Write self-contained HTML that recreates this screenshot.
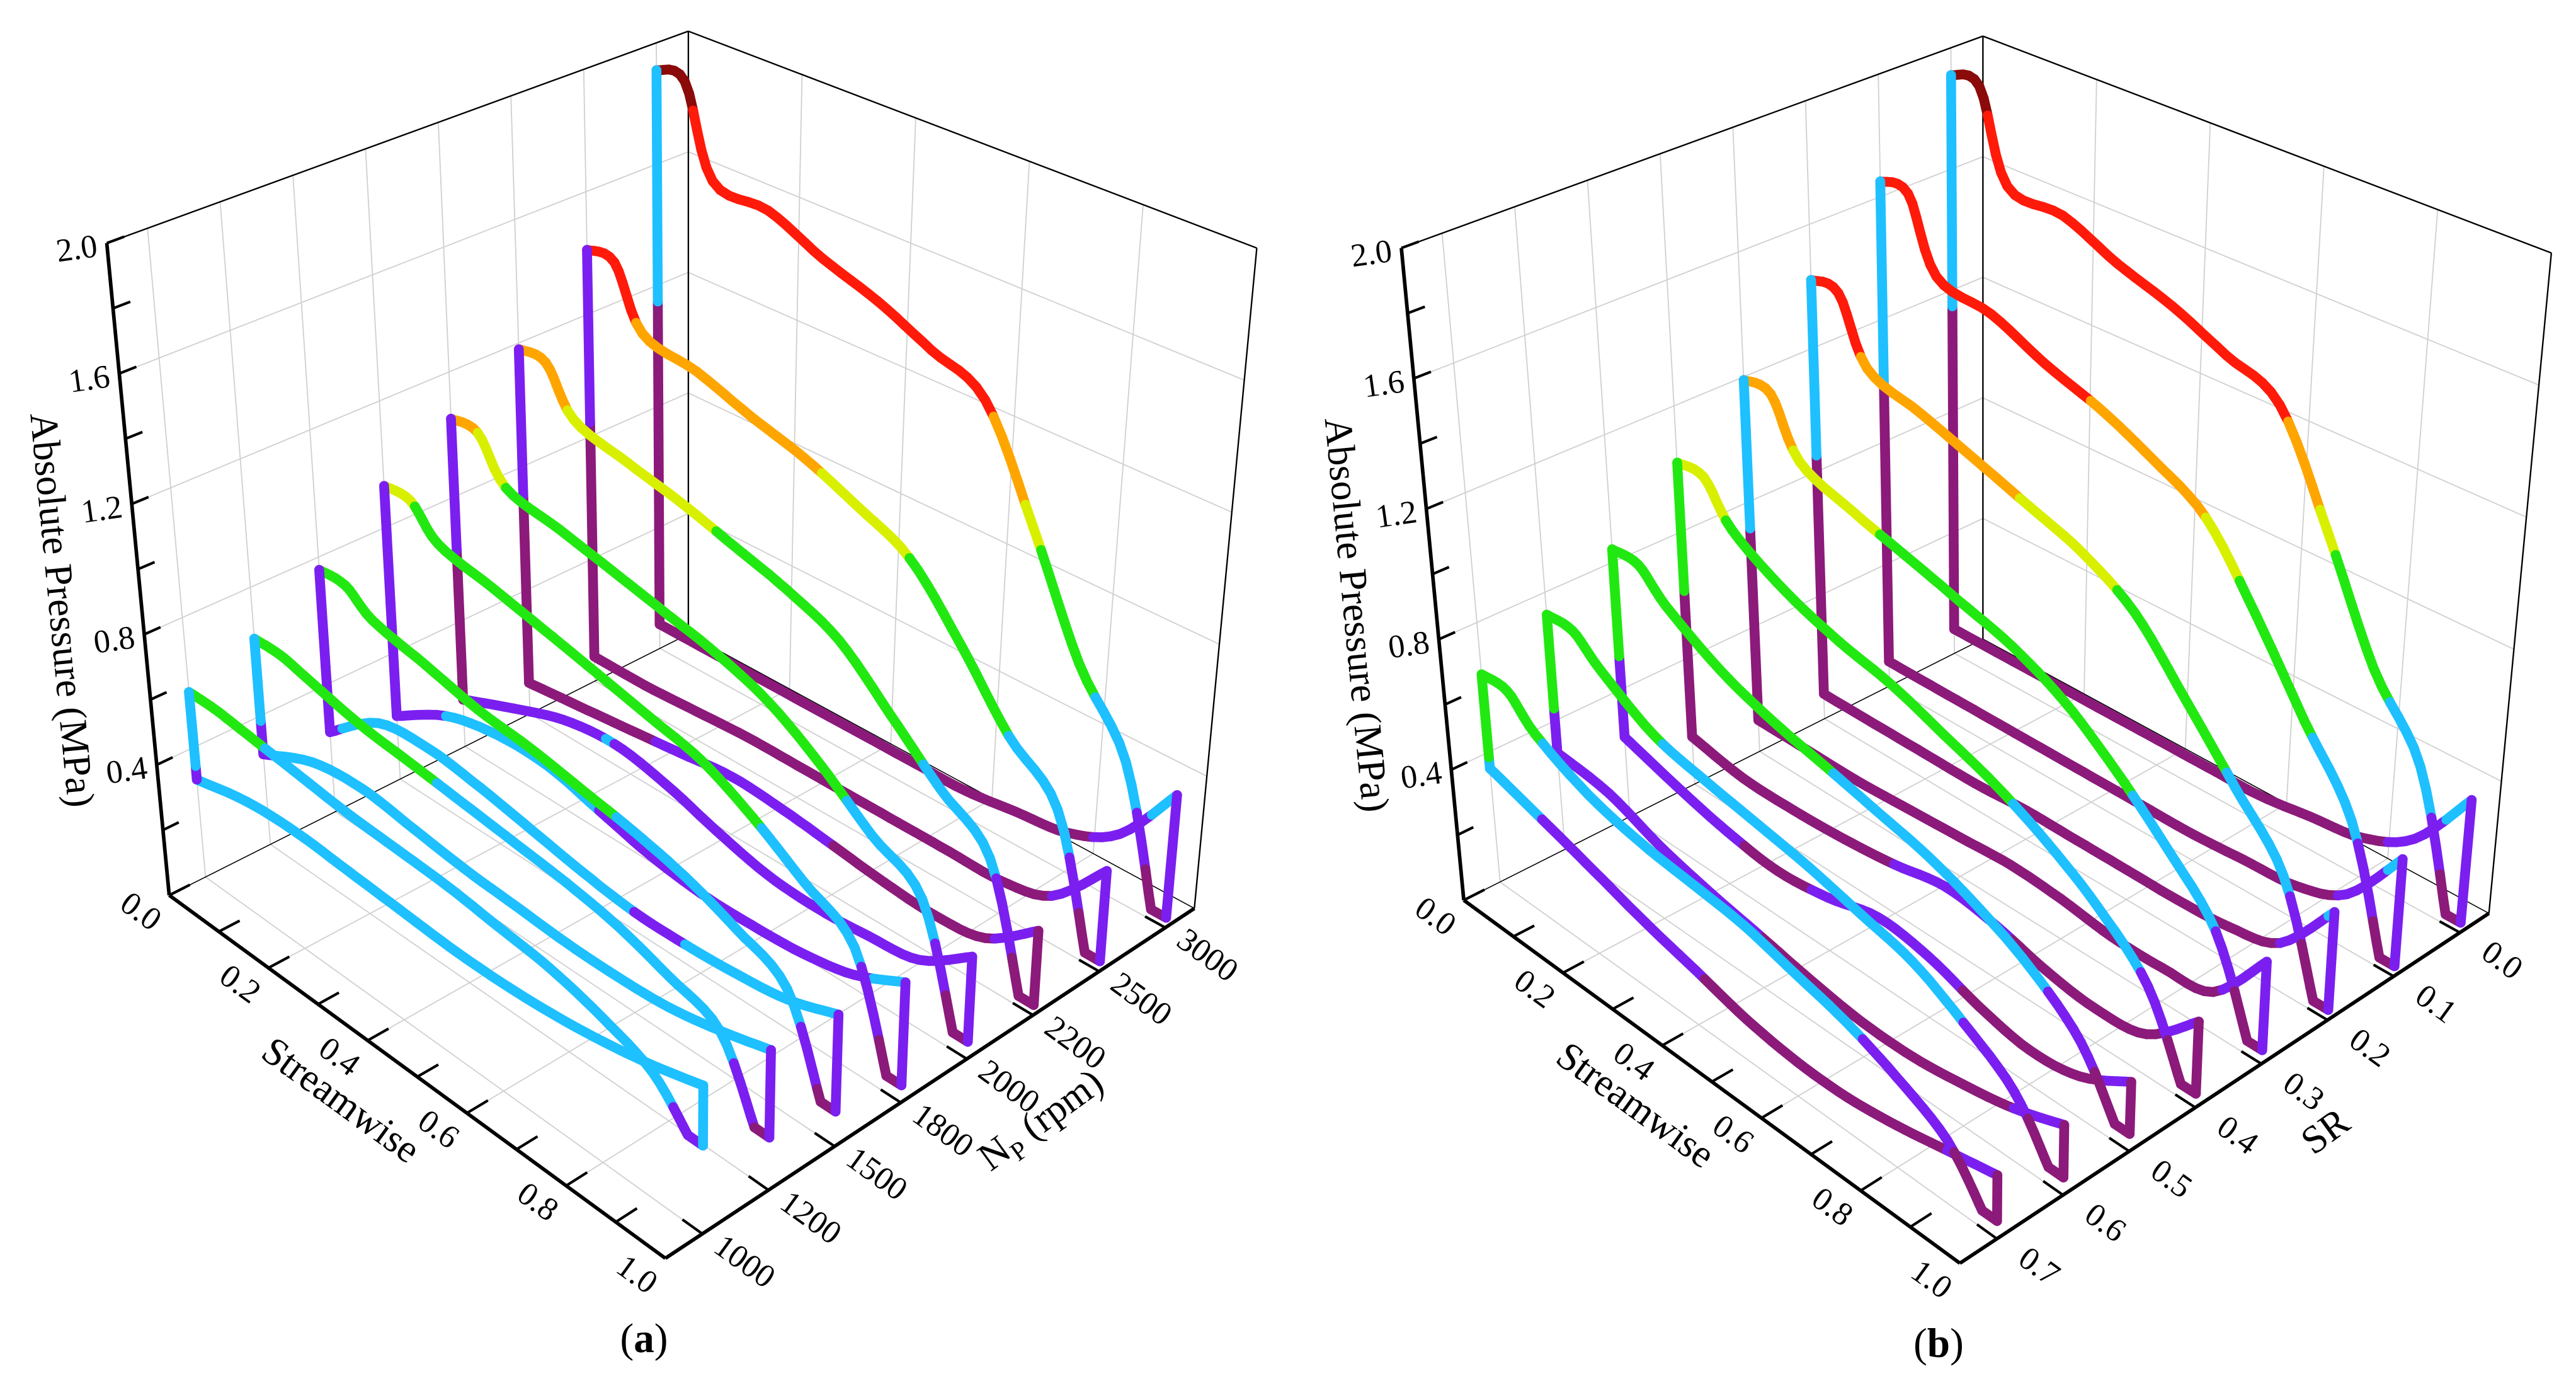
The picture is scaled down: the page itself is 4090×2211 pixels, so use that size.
<!DOCTYPE html>
<html><head><meta charset="utf-8"><title>Absolute pressure 3D charts</title>
<style>
html,body{margin:0;padding:0;background:#fff;}
svg{display:block;}
text{font-family:"Liberation Serif",serif;fill:#000;}
</style></head>
<body>
<svg id="fig" xmlns="http://www.w3.org/2000/svg" width="4090" height="2211" viewBox="0 0 1568 848" preserveAspectRatio="none">
<rect x="0" y="0" width="1568" height="848" fill="#fff"/>
<g id="panelA"></g>
<g id="panelB"></g>
</svg>
<script>
// ---- shared axis data ----
const sGrid = [0,0.1,0.2,0.3,0.4,0.5,0.6,0.7,0.8,0.9];
const sTickVals = [0,0.2,0.4,0.6,0.8,1.0];
const sTickLabels = ["0.0","0.2","0.4","0.6","0.8","1.0"];
const pTickVals = [0.4,0.8,1.2,1.6,2.0];
const pTickLabels = ["0.4","0.8","1.2","1.6","2.0"];
// ---- panel (a) data: N_P ----
const npLabels = ["1000","1200","1500","1800","2000","2200","2500","3000"];
const aPressureSide = [
 [0.57,0.56,0.54,0.52,0.51,0.50,0.48,0.46,0.42,0.36],
 [0.64,0.62,0.58,0.56,0.54,0.52,0.50,0.47,0.42,0.36],
 [0.76,0.70,0.66,0.62,0.60,0.57,0.54,0.50,0.44,0.36],
 [0.93,0.84,0.80,0.76,0.72,0.68,0.64,0.56,0.46,0.36],
 [1.05,0.92,0.88,0.84,0.80,0.76,0.70,0.60,0.48,0.38],
 [1.18,1.04,0.99,0.95,0.90,0.85,0.78,0.64,0.50,0.38],
 [1.41,1.22,1.18,1.12,1.07,1.00,0.92,0.74,0.54,0.40],
 [1.91,1.62,1.60,1.52,1.46,1.38,1.30,0.98,0.64,0.42]
];
const aDip = [0.25,0.15,0.10,0.05,0.05,0.03,0.03,0.03];
const aSuctionSide = [
 [0.30,0.34,0.35,0.34,0.33,0.32,0.32,0.33,0.35,0.38,0.42],
 [0.28,0.36,0.38,0.36,0.34,0.33,0.32,0.32,0.33,0.36,0.40],
 [0.25,0.38,0.40,0.38,0.35,0.32,0.30,0.30,0.31,0.33,0.38],
 [0.20,0.30,0.34,0.34,0.30,0.26,0.24,0.24,0.25,0.28,0.35],
 [0.15,0.22,0.28,0.30,0.27,0.22,0.18,0.17,0.18,0.20,0.30],
 [0.10,0.12,0.14,0.16,0.18,0.17,0.15,0.13,0.12,0.14,0.25],
 [0.08,0.08,0.09,0.10,0.10,0.10,0.10,0.10,0.10,0.14,0.30],
 [0.08,0.08,0.08,0.08,0.08,0.08,0.08,0.10,0.12,0.20,0.40]
];
const aVertColor = ["#1ec0ff","#1ec0ff","#7a1ff0","#7a1ff0","#7a1ff0","#7a1ff0","#7a1ff0","#1ec0ff"];
// ---- panel (b) data: SR ----
const srLabels = ["0.7","0.6","0.5","0.4","0.3","0.2","0.1","0.0"];
const bPressureSide = [
 [0.64,0.56,0.48,0.44,0.42,0.40,0.36,0.32,0.26,0.18],
 [0.73,0.66,0.56,0.52,0.49,0.46,0.42,0.38,0.30,0.20],
 [0.84,0.76,0.66,0.60,0.56,0.52,0.48,0.42,0.34,0.22],
 [1.02,0.90,0.80,0.74,0.70,0.64,0.58,0.50,0.40,0.26],
 [1.19,1.02,0.95,0.90,0.85,0.80,0.72,0.60,0.46,0.30],
 [1.42,1.22,1.16,1.10,1.04,0.98,0.88,0.70,0.52,0.34],
 [1.65,1.42,1.38,1.30,1.24,1.16,1.06,0.84,0.60,0.38],
 [1.91,1.62,1.60,1.52,1.46,1.38,1.30,0.98,0.64,0.42]
];
const bDip = [0.05,0.05,0.05,0.04,0.04,0.03,0.03,0.03];
const bSuctionSide = [
 [0.35,0.30,0.25,0.20,0.16,0.12,0.10,0.10,0.12,0.15,0.18],
 [0.30,0.28,0.22,0.18,0.15,0.12,0.10,0.10,0.12,0.15,0.20],
 [0.25,0.20,0.16,0.14,0.16,0.20,0.18,0.13,0.10,0.12,0.20],
 [0.15,0.12,0.12,0.13,0.15,0.18,0.16,0.12,0.10,0.12,0.25],
 [0.10,0.10,0.10,0.11,0.12,0.13,0.12,0.10,0.10,0.12,0.30],
 [0.08,0.08,0.08,0.08,0.09,0.09,0.09,0.09,0.10,0.14,0.32],
 [0.08,0.08,0.08,0.08,0.08,0.08,0.08,0.09,0.10,0.16,0.35],
 [0.08,0.08,0.08,0.08,0.08,0.08,0.08,0.10,0.12,0.20,0.40]
];
const bVertColor = ["#22e812","#22e812","#22e812","#22e812","#1ec0ff","#1ec0ff","#1ec0ff","#1ec0ff"];

const NS = "http://www.w3.org/2000/svg";
function mk(parent, tag, attrs){ const e=document.createElementNS(NS,tag); for(const k in attrs) e.setAttribute(k,attrs[k]); parent.appendChild(e); return e; }

function cmap(p){
  if(p>1.8) return "#8b0a0a";
  if(p>1.25) return "#ff1a0a";
  if(p>1.05) return "#ffa500";
  if(p>0.92) return "#d8f000";
  if(p>0.55) return "#22e812";
  if(p>0.3) return "#1ec0ff";
  if(p>0.15) return "#7a1ff0";
  return "#8b1a7a";
}
function catmull(pts, steps){
  const out=[];
  for(let i=0;i<pts.length-1;i++){
    const p0=pts[Math.max(0,i-1)],p1=pts[i],p2=pts[i+1],p3=pts[Math.min(pts.length-1,i+2)];
    for(let k=0;k<steps;k++){
      const t=k/steps,t2=t*t,t3=t2*t;
      const f=(a,b,c,d)=>0.5*((2*b)+(-a+c)*t+(2*a-5*b+4*c-d)*t2+(-a+3*b-3*c+d)*t3);
      out.push([f(p0[0],p1[0],p2[0],p3[0]), f(p0[1],p1[1],p2[1],p3[1])]);
    }
  }
  out.push(pts[pts.length-1]);
  return out;
}

function drawPanel(g, ox, oy, catLabels, ps, ss, dip, vcol, catTitle, catSub, panelLetter){
  const FL=[103,545],F=[405,766],R=[727,553],B=[419,386];
  const VFL=[-19,-198.5],VF=[0,-216],VR=[19,-201],VB=[0,-183.5];
  function proj(s,n,p){
    const w=[(1-s)*(1-n), s*(1-n), s*n, (1-s)*n];
    const C=[FL,F,R,B], V=[VFL,VF,VR,VB];
    let x=0,y=0;
    for(let i=0;i<4;i++){ x+=w[i]*(C[i][0]+V[i][0]*p); y+=w[i]*(C[i][1]+V[i][1]*p); }
    return [x+ox,y+oy];
  }
  const nPos = i => 0.07 + 0.125*i;
  const line=(a,b,st,sw,name)=>{ const e=mk(g,"line",{x1:a[0].toFixed(1),y1:a[1].toFixed(1),x2:b[0].toFixed(1),y2:b[1].toFixed(1),stroke:st,"stroke-width":sw});
    
     return e; };
  const gc="#d0d0d0", gw=0.7;
  for(const p of pTickVals){ line(proj(0,0,p),proj(0,1,p),gc,gw,"grid-line-left-wall"); line(proj(0,1,p),proj(1,1,p),gc,gw,"grid-line-right-wall"); }
  for(let i=0;i<catLabels.length;i++){ const n=nPos(i); line(proj(0,n,0),proj(0,n,2),gc,gw,"grid-line-left-wall"); line(proj(0,n,0),proj(1,n,0),gc,gw,"grid-line-floor"); }
  for(const s of sTickVals.slice(1,5)){ line(proj(s,1,0),proj(s,1,2),gc,gw,"grid-line-right-wall"); line(proj(s,0,0),proj(s,1,0),gc,gw,"grid-line-floor"); }
  line(proj(0,1,0),proj(0,1,2),"#000",0.9,"box-edge-back");
  line(proj(0,0,2),proj(0,1,2),"#000",0.9,"box-edge-top-left");
  line(proj(0,1,2),proj(1,1,2),"#000",0.9,"box-edge-top-right");
  line(proj(1,1,0),proj(1,1,2),"#000",0.9,"box-edge-right");
  line(proj(0,0,0),proj(0,1,0),"#000",0.6,"box-edge-floor-left");
  line(proj(0,1,0),proj(1,1,0),"#000",0.6,"box-edge-floor-right");
  line(proj(0,0,0),proj(0,0,2),"#000",2.2,"z-axis-line");
  line(proj(0,0,0),proj(1,0,0),"#000",2.2,"streamwise-axis-line");
  line(proj(1,0,0),proj(1,1,0),"#000",2.2,"category-axis-line");
  for(let k=0;k<=10;k++){ const p=k*0.2; line(proj(0,0,p),proj(0,0.03,p),"#000",1.6,"z-axis-tick"); }
  for(let k=0;k<=10;k++){ const s=k*0.1; line(proj(s,0,0),proj(s,0.04,0),"#000",1.6,"streamwise-axis-tick"); }
  for(let i=0;i<catLabels.length;i++){ const n=nPos(i); line(proj(1,n,0),proj(0.96,n,0),"#000",1.6,"category-axis-tick"); }
  const txt=(pos,str,size,rot,anchor,name)=>{ const e=mk(g,"text",{x:pos[0].toFixed(1),y:pos[1].toFixed(1),"font-size":size,"text-anchor":anchor,transform:`rotate(${rot} ${pos[0].toFixed(1)} ${pos[1].toFixed(1)})`}); e.textContent=str;
    
     return e; };
  pTickVals.forEach((p,i)=>{ const q=proj(0,0,p); txt([q[0]-5,q[1]+8],pTickLabels[i],20,-8,"end","z-tick-label"); });
  sTickVals.forEach((s,i)=>{ const q=proj(s,0,0); txt([q[0]-21,q[1]+15],sTickLabels[i],20,36,"middle","streamwise-tick-label"); });
  catLabels.forEach((l,i)=>{ const q=proj(1,nPos(i),0); txt([q[0]+22,q[1]+22],l,20,36,"middle","category-tick-label"); });
  txt([30+ox,372+oy],"Absolute Pressure (MPa)",24,84.5,"middle","z-axis-title");
  txt([203+ox,676+oy],"Streamwise",24,36,"middle","streamwise-axis-title");
  { const e=txt([catTitle==="SR"?632+ox:638+ox, catTitle==="SR"?692+oy:688+oy],"",24,-36,"middle","category-axis-title");
    const t1=mk(e,"tspan",{}); t1.textContent=catTitle;
    if(catSub){ const t2=mk(e,"tspan",{"font-size":16,dy:5}); t2.textContent=catSub; const t3=mk(e,"tspan",{dy:-5}); t3.textContent=" (rpm)"; } }
  { const e=mk(g,"text",{x:(392+ox).toFixed(1),y:(826+oy-3).toFixed(1),"font-size":25,"text-anchor":"middle"});
    
    
    const a=mk(e,"tspan",{}); a.textContent="("; const b=mk(e,"tspan",{"font-weight":"bold"}); b.textContent=panelLetter; const c=mk(e,"tspan",{}); c.textContent=")"; }
  for(let i=catLabels.length-1;i>=0;i--){
    const n=nPos(i);
    const cg=mk(g,"g",{});
    
    
    const seg=(a,b,col)=>{ const pa=proj(a[0],n,a[1]), pb=proj(b[0],n,b[1]);
      const e=mk(cg,"line",{x1:pa[0].toFixed(1),y1:pa[1].toFixed(1),x2:pb[0].toFixed(1),y2:pb[1].toFixed(1),stroke:col,"stroke-width":6,"stroke-linecap":"round"});
      
       };
    const ssPts=ss[i].map((p,k)=>[k<10?sGrid[k]:1.0,p]);
    const ssD=catmull(ssPts,6);
    for(let k=0;k<ssD.length-1;k++) seg(ssD[k],ssD[k+1],cmap((ssD[k][1]+ssD[k+1][1])/2));
    const psPts=[[sGrid[0],ps[i][0]],[0.05,ps[i][0]]];
    for(let k=1;k<ps[i].length;k++) psPts.push([sGrid[k],ps[i][k]]);
    psPts.push([0.97,dip[i]]);
    const psD=catmull(psPts,6);
    for(let k=0;k<psD.length-1;k++) seg(psD[k],psD[k+1],cmap((psD[k][1]+psD[k+1][1])/2));
    seg([0.97,dip[i]],[1.0,dip[i]],cmap(dip[i]));
    seg([1.0,dip[i]],[1.0,ss[i][10]],cmap((dip[i]+ss[i][10])/2));
    seg([0,ss[i][0]],[0,ps[i][0]*0.6],cmap(ss[i][0]));
    seg([0,ps[i][0]*0.6],[0,ps[i][0]],vcol[i]);
  }
}
drawPanel(document.getElementById("panelA"),0,0,npLabels,aPressureSide,aSuctionSide,aDip,aVertColor,"N","P","a");
drawPanel(document.getElementById("panelB"),788,3,srLabels,bPressureSide,bSuctionSide,bDip,bVertColor,"SR","","b");
</script>
</body></html>
